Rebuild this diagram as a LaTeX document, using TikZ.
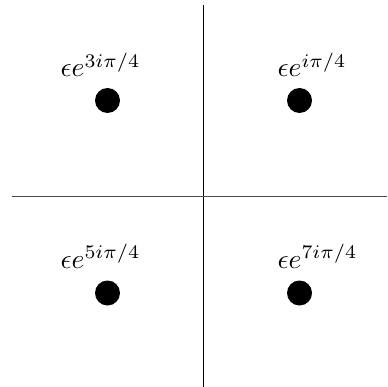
\documentclass[tikz,border=0pt]{standalone}
\begin{document}
\begin{tikzpicture}[x=1pt,y=-1pt,
  pole/.style={circle,fill=black,inner sep=0pt,minimum size=25pt},
  lab/.style={anchor=base west,inner sep=0pt,scale=2.75},
  axis/.style={line width=1.5pt}]
\useasboundingbox (0,0) rectangle (387,387);
\coordinate (top) at (203.5,5);
\coordinate (bot) at (203.5,387);
\coordinate (lft) at (12,196.5);
\coordinate (rgt) at (387,196.5);
\draw[axis] (top) -- (bot);
\draw[axis,draw=black!70] (lft) -- (rgt);
\node[pole] (p1) at (299.5,100.5) {};
\node[pole] (p2) at (107.5,100.5) {};
\node[pole] (p3) at (107.5,293) {};
\node[pole] (p4) at (299.5,293) {};
\node[lab] (l2) at (60,77) {$\epsilon e^{3i\pi/4}$};
\node[lab] (l1) at (277,77) {$\epsilon e^{i\pi/4}$};
\node[lab] (l3) at (60,268) {$\epsilon e^{5i\pi/4}$};
\node[lab] (l4) at (277,268) {$\epsilon e^{7i\pi/4}$};
\end{tikzpicture}
\end{document}
